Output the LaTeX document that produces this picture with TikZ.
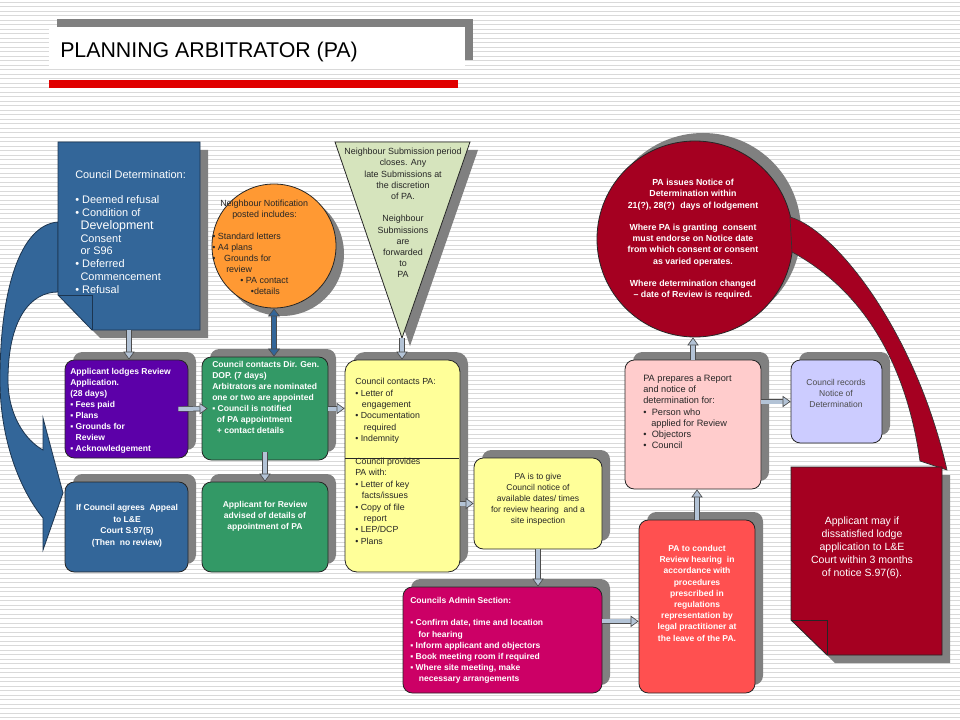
\documentclass[tikz,border=0pt]{standalone}
\usepackage{fontspec}
\setmainfont{Liberation Sans}
\usetikzlibrary{arrows.meta, shadows, fit}

\definecolor{cdblue}{HTML}{336699}
\definecolor{cdline}{HTML}{1C3550}
\definecolor{lodgepurple}{HTML}{5C00A8}
\definecolor{dgreen}{HTML}{339966}
\definecolor{notiforange}{HTML}{FF9933}
\definecolor{trigreen}{HTML}{D6E4BD}
\definecolor{paleyellow}{HTML}{FFFF99}
\definecolor{adminpink}{HTML}{CC0066}
\definecolor{coral}{HTML}{FF5050}
\definecolor{palepink}{HTML}{FFCCCC}
\definecolor{lavender}{HTML}{CCCCFF}
\definecolor{darkred}{HTML}{A50021}
\definecolor{shadowgray}{HTML}{808080}
\definecolor{arrowfill}{HTML}{B3C3D6}
\definecolor{stripe}{HTML}{D9D9D9}
\definecolor{titlered}{HTML}{E00000}

\begin{document}
\begin{tikzpicture}[x=0.75pt, y=-0.75pt,
    round box/.style={rectangle, rounded corners=7pt, draw=black!85, line width=0.6pt, inner sep=0pt},
    low shadow/.style={drop shadow={shadow xshift=6pt, shadow yshift=-6pt, fill=shadowgray, opacity=1}},
    high shadow/.style={drop shadow={shadow xshift=6pt, shadow yshift=6pt, fill=shadowgray, opacity=1}},
    white text/.style={inner sep=0pt, text=white, font=\fontsize{6.4}{8.3}\selectfont\bfseries},
    dark text/.style={inner sep=0pt, text=black!85, font=\fontsize{6.6}{8.5}\selectfont},
    conn arrow/.style={draw=black!70, line width=0.5pt, double=arrowfill, double distance=3pt,
        -{Triangle[length=6pt, width=8.5pt, fill=arrowfill]}}]

    \useasboundingbox (0,0) rectangle (960,720);
    % striped slide background
    \fill[white] (0,0) rectangle (960,720);
    \foreach \y in {2,6.5,...,720}
        \draw[stripe, line width=0.7pt] (0,\y) -- (960,\y);

    % title
    \node[fit={(49,27)(465,68)}, inner sep=0pt, fill=white, high shadow] (0) {};
    \node[anchor=base west, inner sep=0pt, font=\fontsize{16}{19}\selectfont] (t0) at (60,58) {PLANNING ARBITRATOR (PA)};
    \fill[titlered] (49,80) rectangle (458,88);

    % curved arrow on the left
    \filldraw[fill=cdblue, draw=cdline, line width=0.6pt] (58,222) .. controls (20,225) and (0,290) .. (0,380)
        .. controls (0,440) and (20,490) .. (43,518) -- (43,550) -- (63,493) -- (43,418) -- (43,450)
        .. controls (25,440) and (8,415) .. (8,380) .. controls (8,320) and (30,292) .. (58,292) -- cycle;

    % council determination (folded corner)
    \fill[shadowgray] (66,150) -- (208,150) -- (208,338) -- (100,338) -- (66,303) -- cycle;
    \filldraw[fill=cdblue, draw=cdline, line width=0.6pt] (58,142) -- (200,142) -- (200,330) -- (92,330) -- (58,295) -- cycle;
    \draw[cdline, line width=0.6pt] (58,295) -- (92,295) -- (92,330);
    \node[fit={(58,142)(200,330)}, inner sep=0pt] (1) {};
    \node[anchor=north west, inner sep=0pt, text=white, align=left, font=\fontsize{8.2}{9.6}\selectfont] (t1) at (75,170)
        {Council Determination:\\[9.6pt]• Deemed refusal\\• Condition of\\\hspace*{4pt}{\fontsize{9.3}{9.6}\selectfont Development}\\\hspace*{4pt}Consent\\\hspace*{4pt}or S96\\• Deferred\\\hspace*{4pt}Commencement\\• Refusal};

    % neighbour notification
    \node[circle, minimum size=93pt, inner sep=0pt, fill=notiforange, draw=black!85, line width=0.6pt, low shadow] (2) at (274,246) {};
    \node[dark text, anchor=north west, align=left, font=\fontsize{6.7}{8.25}\selectfont] (t2) at (212,200)
        {\hspace*{6pt}Neighbour Notification\\\hspace*{15pt}posted includes:\\[8.25pt]• Standard letters\\• A4 plans\\•\hspace*{6.5pt}Grounds for\\\hspace*{10.5pt}review\\\hspace*{21pt}• PA contact\\\hspace*{29pt}•details};

    % neighbour submission
    \fill[shadowgray] (343,150) -- (478,150) -- (410,346) -- cycle;
    \filldraw[fill=trigreen, draw=black!85, line width=0.6pt] (335,142) -- (470,142) -- (402,338) -- cycle;
    \coordinate (3) at (402,338);
    \node[dark text, anchor=north, align=center, font=\fontsize{6.7}{8.4}\selectfont] (t3) at (403,148)
        {Neighbour Submission period\\closes. Any\\late Submissions at\\the discretion\\of PA.\\[8.4pt]Neighbour\\Submissions\\are\\forwarded\\to\\PA};

    % notice of determination
    \node[circle, minimum size=147pt, inner sep=0pt, fill=darkred, draw=black!85, line width=0.6pt, high shadow] (4) at (695,239) {};
    \node[white text, anchor=north, align=center, font=\fontsize{6.6}{8.4}\selectfont\bfseries] (t4) at (693,179)
        {PA issues Notice of\\Determination within\\21(?), 28(?) \ days of lodgement\\[8.4pt]Where PA is granting \ consent\\must endorse on Notice date\\from which consent or consent\\as varied operates.\\[8.4pt]Where determination changed\\– date of Review is required.};
    \filldraw[fill=darkred, draw=black!80, line width=0.5pt] (790,217) .. controls (835,230) and (915,330) .. (947,470)
        -- (920,461) .. controls (910,390) and (880,300) .. (792,252) -- cycle;

    % review steps
    \node[round box, fill=lodgepurple, high shadow, fit={(65,360)(188,458)}] (5) {};
    \node[white text, anchor=north west, align=left] (t5) at (70,368)
        {Applicant lodges Review\\Application.\\(28 days)\\▪ Fees paid\\▪ Plans\\▪ Grounds for\\\hspace*{4pt}Review\\▪ Acknowledgement};

    \node[round box, fill=dgreen, high shadow, fit={(202,357)(328,460)}] (6) {};
    \node[white text, anchor=north west, align=left] (t6) at (212,361)
        {Council contacts Dir. Gen.\\DOP. (7 days)\\Arbitrators are nominated\\one or two are appointed\\▪ Council is notified\\\hspace*{3.5pt}of PA appointment\\\hspace*{3.5pt}+ contact details};

    \node[round box, fill=dgreen, high shadow, fit={(202,482)(328,572)}] (7) {};
    \node[white text, anchor=north, align=center] (t7) at (265,501)
        {Applicant for Review\\advised of details of\\appointment of PA};

    \node[round box, fill=cdblue, high shadow, fit={(65,482)(188,572)}] (8) {};
    \node[white text, anchor=north, align=center, font=\fontsize{6.4}{8.7}\selectfont\bfseries] (t8) at (127,504)
        {If Council agrees \ Appeal\\to L\&E\\Court S.97(5)\\(Then \ no review)};

    \node[round box, rounded corners=9pt, fill=paleyellow, high shadow, fit={(345,360)(460,572)}] (9) {};
    \draw[black!85, line width=0.6pt] (345,458) -- (459,458);
    \node[dark text, anchor=north west, align=left, font=\fontsize{6.6}{8.55}\selectfont] (t9) at (355,378)
        {Council contacts PA:\\• Letter of\\\hspace*{5pt}engagement\\• Documentation\\\hspace*{6.5pt}required\\• Indemnity\\[8.55pt]Council provides\\PA with:\\• Letter of key\\\hspace*{5pt}facts/issues\\• Copy of file\\\hspace*{6.5pt}report\\• LEP/DCP\\• Plans};

    \node[round box, fill=paleyellow, high shadow, fit={(474,458)(602,549)}] (10) {};
    \node[dark text, anchor=north, align=center, font=\fontsize{6.4}{8.3}\selectfont] (t10) at (538,473)
        {PA is to give\\Council notice of\\available dates/ times\\for review hearing \ and a\\site inspection};

    \node[round box, fill=adminpink, high shadow, fit={(403,587)(602,693)}] (11) {};
    \node[white text, anchor=north west, align=left, font=\fontsize{6.4}{8.4}\selectfont\bfseries] (t11) at (410,597)
        {Councils Admin Section:\\[8.4pt]▪ Confirm date, time and location\\\hspace*{6pt}for hearing\\▪ Inform applicant and objectors\\▪ Book meeting room if required\\▪ Where site meeting, make\\\hspace*{6.5pt}necessary arrangements};

    \node[round box, fill=coral, high shadow, fit={(639,520)(755,693)}] (12) {};
    \node[white text, anchor=north, align=center, font=\fontsize{6.4}{8.4}\selectfont\bfseries] (t12) at (697,545)
        {PA to conduct\\Review hearing \ in\\accordance with\\procedures\\prescribed in\\regulations\\representation by\\legal practitioner at\\the leave of the PA.};

    \node[round box, fill=palepink, high shadow, fit={(625,360)(761,489)}] (13) {};
    \node[dark text, anchor=north west, align=left, font=\fontsize{6.9}{8.4}\selectfont] (t13) at (643,375)
        {PA prepares a Report\\and notice of\\determination for:\\•\hspace*{4pt}Person who\\\hspace*{6pt}applied for Review\\•\hspace*{4pt}Objectors\\•\hspace*{4pt}Council};

    \node[round box, fill=lavender, high shadow, fit={(791,360)(882,443)}] (14) {};
    \node[dark text, anchor=north, align=center, text=black!70, font=\fontsize{6.4}{8.2}\selectfont] (t14) at (836,379)
        {Council records\\Notice of\\Determination};

    % court appeal (folded corner)
    \fill[shadowgray] (799,475) -- (950,475) -- (950,663) -- (835,663) -- (799,628) -- cycle;
    \filldraw[fill=darkred, draw=black!85, line width=0.6pt] (791,467) -- (942,467) -- (942,655) -- (827,655) -- (791,620) -- cycle;
    \draw[black!85, line width=0.6pt] (791,620) -- (827,620) -- (827,655);
    \node[fit={(791,467)(942,655)}, inner sep=0pt] (15) {};
    \node[anchor=north, inner sep=0pt, text=white, align=center, font=\fontsize{7.9}{9.75}\selectfont] (t15) at (862,517)
        {Applicant may if\\dissatisfied lodge\\application to L\&E\\Court within 3 months\\of notice S.97(6).};

    % connectors
    \draw[conn arrow] (1.south) -- (1.south |- 5.north);
    \draw[conn arrow, double=cdblue, {Triangle[length=6pt, width=9pt, fill=cdblue]}-{Triangle[length=6pt, width=9pt, fill=cdblue]}] (2.south) -- (2.south |- 6.north);
    \draw[conn arrow] (3) -- (3 |- 9.north);
    \draw[conn arrow] ([xshift=-7.5pt]5.east) -- ([xshift=4.5pt]6.west);
    \draw[conn arrow] (6.east) -- (6.east -| 9.west);
    \draw[conn arrow] ([yshift=6pt]6.south) -- (7.north);
    \draw[conn arrow] (9.east |- 10.west) -- (10.west);
    \draw[conn arrow] (10.south) -- (10.south |- 11.north);
    \draw[conn arrow] ([yshift=14pt]11.east) -- ([yshift=14pt]11.east -| 12.west);
    \draw[conn arrow] (12.north) -- (12.north |- 13.south);
    \draw[conn arrow] (13.north) -- (13.north |- 4.south);
    \draw[conn arrow] (13.east |- 14.west) -- (14.west);
\end{tikzpicture}
\end{document}
